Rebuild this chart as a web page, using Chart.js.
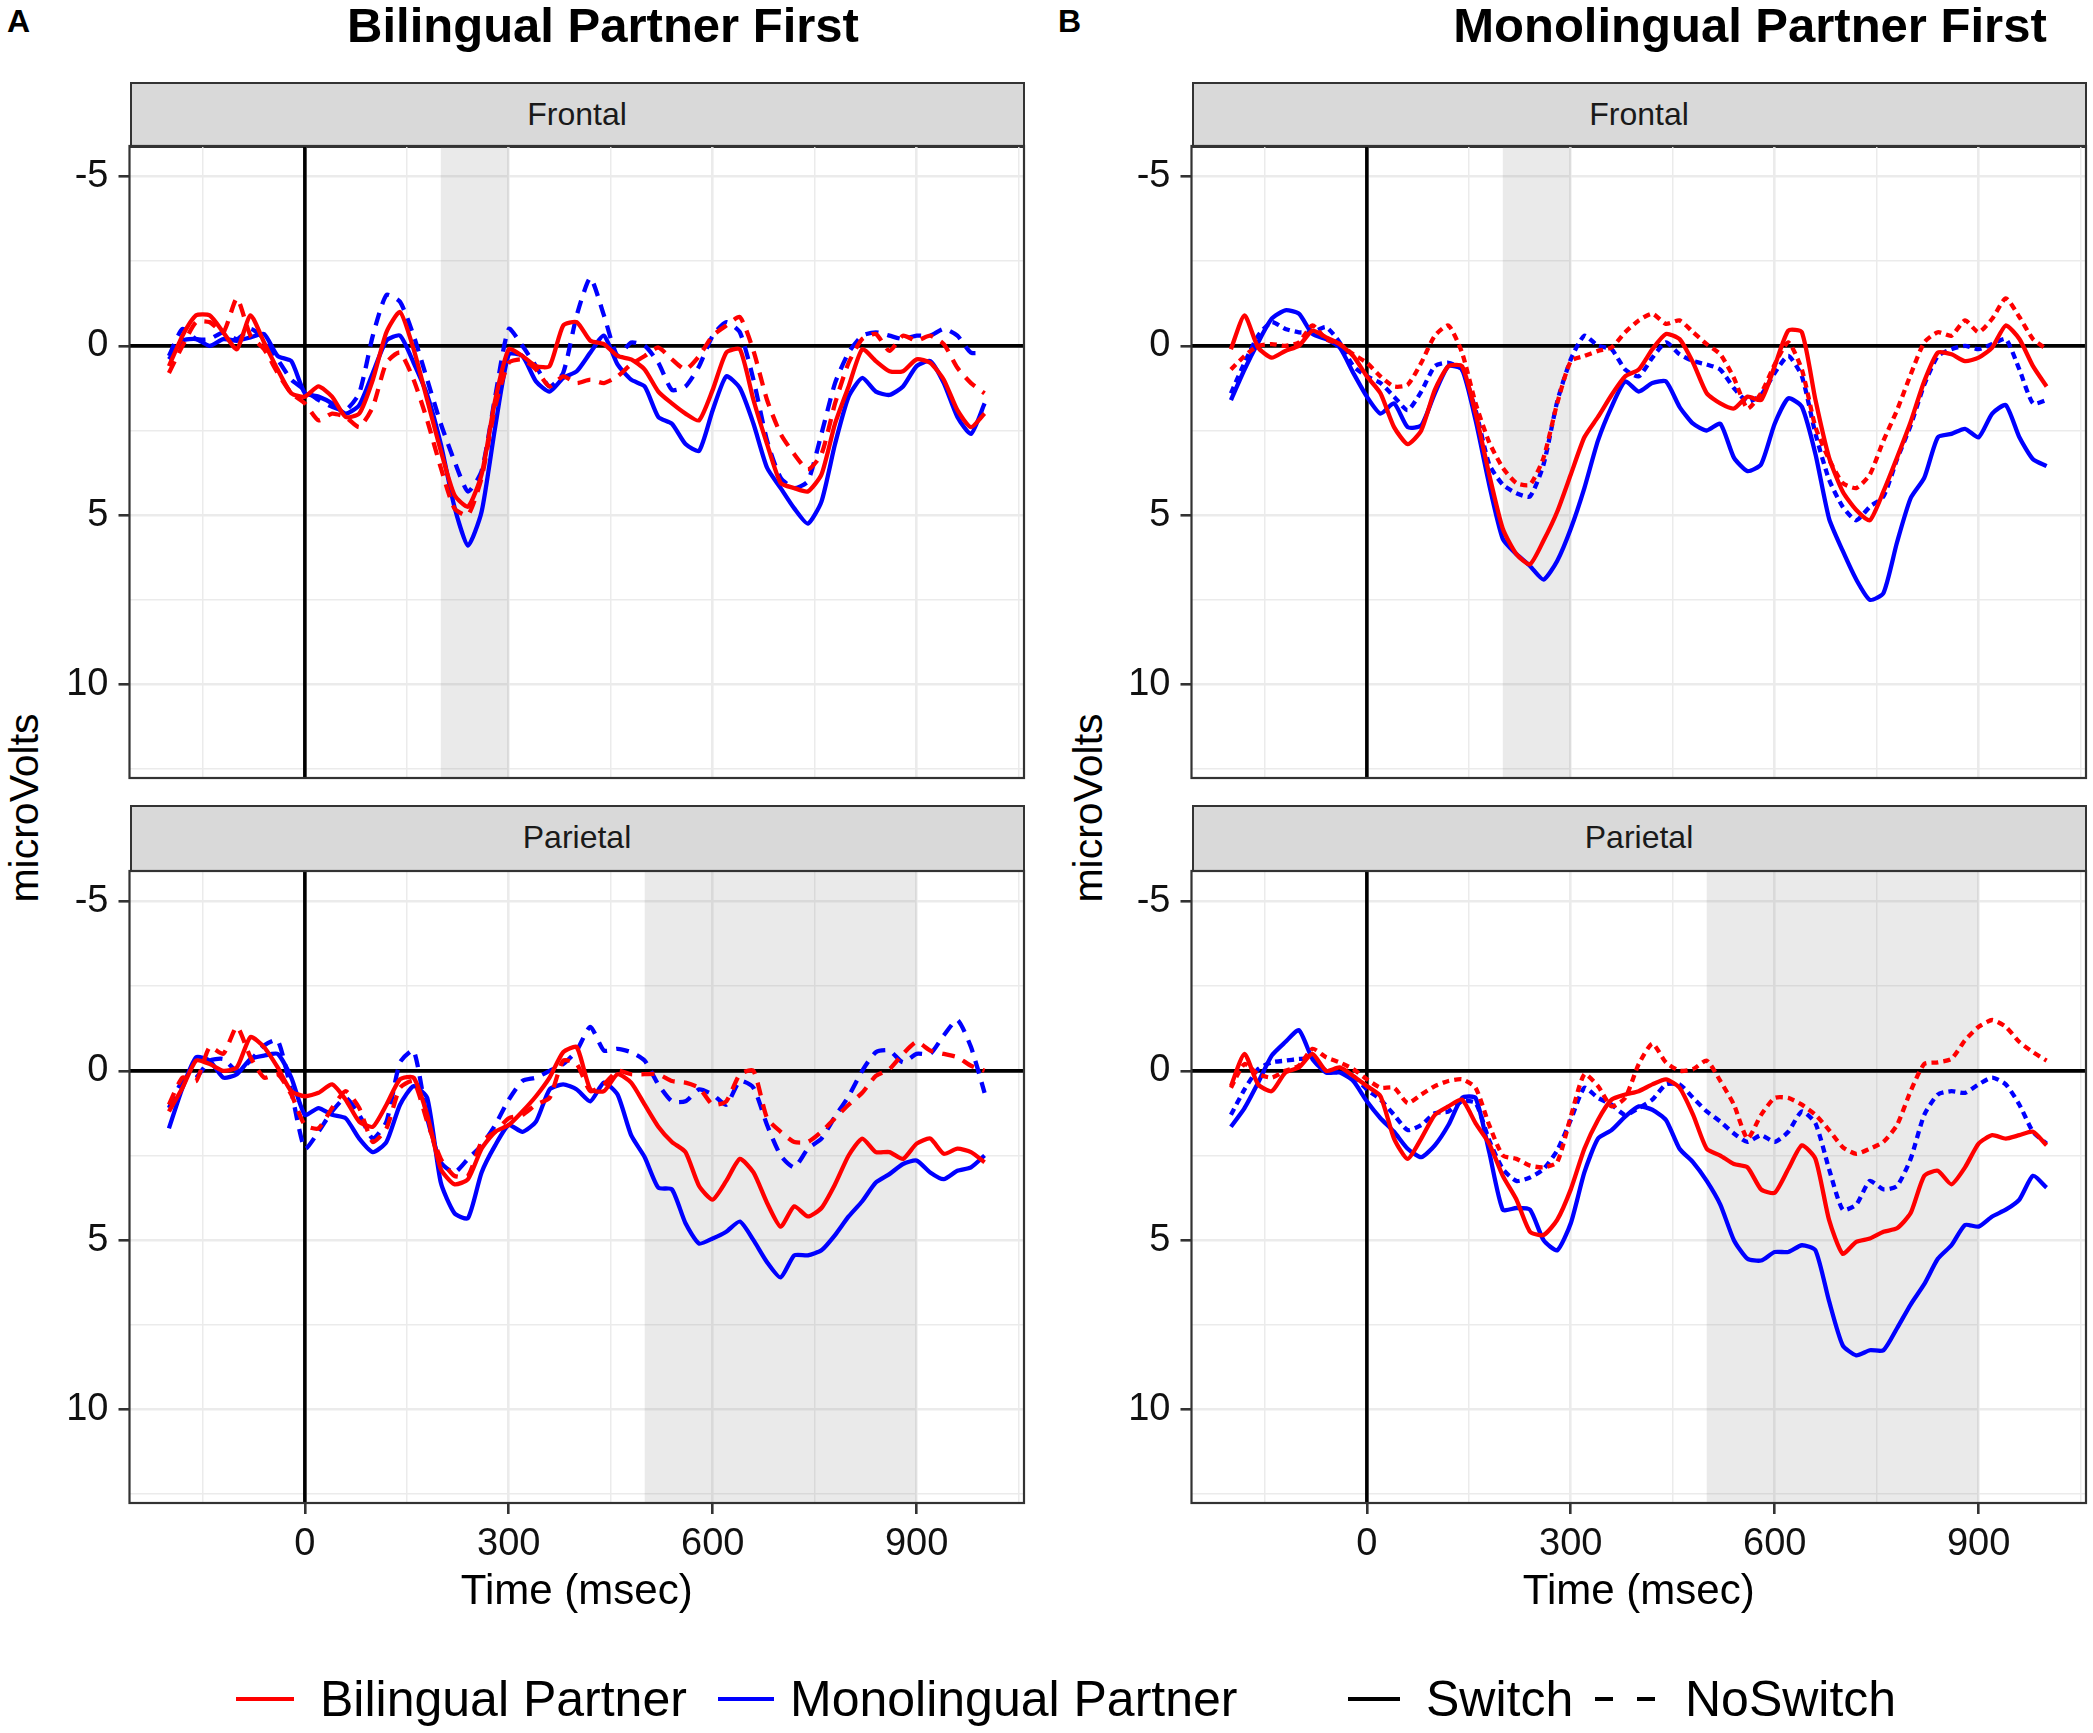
<!DOCTYPE html>
<html>
<head>
<meta charset="utf-8">
<script src="https://cdn.jsdelivr.net/npm/chart.js@4.4.1/dist/chart.umd.min.js"></script>
<style>
  body { margin: 0; background: #fff; }
  #fig { position: relative; width: 2093px; height: 1733px; overflow: hidden;
         font-family: 'Liberation Sans', Arial, sans-serif; color: #000; }
  .txt { position: absolute; white-space: nowrap; line-height: 1; }
  .strip { position: absolute; background: #d9d9d9; border: 2px solid #333; box-sizing: border-box;
           text-align: center; color: #1a1a1a; font-size: 32px; line-height: 60px; }
  .swatch { position: absolute; height: 4px; }
  canvas { position: absolute; }
</style>
</head>
<body>
<div id="fig">
  <div class="txt" style="left:7px;top:5px;font-size:32px;font-weight:bold;">A</div>
  <div class="txt" style="left:1058px;top:5px;font-size:32px;font-weight:bold;">B</div>
  <div class="txt" style="left:603px;top:25px;transform:translate(-50%,-50%);font-size:49px;font-weight:bold;">Bilingual Partner First</div>
  <div class="txt" style="left:1750px;top:25px;transform:translate(-50%,-50%);font-size:49px;font-weight:bold;">Monolingual Partner First</div>

  <div class="strip" style="left:129.5px;top:81.5px;width:895px;height:66px;">Frontal</div>
  <div class="strip" style="left:129.5px;top:805px;width:895px;height:67px;">Parietal</div>
  <div class="strip" style="left:1191.5px;top:81.5px;width:895px;height:66px;">Frontal</div>
  <div class="strip" style="left:1191.5px;top:805px;width:895px;height:67px;">Parietal</div>

  <div class="txt" style="left:24px;top:808px;transform:translate(-50%,-50%) rotate(-90deg);font-size:41px;">microVolts</div>
  <div class="txt" style="left:1088px;top:808px;transform:translate(-50%,-50%) rotate(-90deg);font-size:41px;">microVolts</div>

  <canvas id="aF"></canvas>
  <canvas id="aP"></canvas>
  <canvas id="bF"></canvas>
  <canvas id="bP"></canvas>

  <div class="swatch" style="left:236px;top:1697px;width:58px;background:#f00;"></div>
  <div class="txt" style="left:320px;top:1699px;transform:translateY(-50%);font-size:50px;">Bilingual Partner</div>
  <div class="swatch" style="left:718px;top:1697px;width:56px;background:#00f;"></div>
  <div class="txt" style="left:790px;top:1699px;transform:translateY(-50%);font-size:50px;">Monolingual Partner</div>
  <div class="swatch" style="left:1348px;top:1697px;width:52px;background:#000;"></div>
  <div class="txt" style="left:1426px;top:1699px;transform:translateY(-50%);font-size:50px;">Switch</div>
  <div class="swatch" style="left:1595px;top:1697px;width:18px;background:#000;"></div>
  <div class="swatch" style="left:1637px;top:1697px;width:18px;background:#000;"></div>
  <div class="txt" style="left:1685px;top:1699px;transform:translateY(-50%);font-size:50px;">NoSwitch</div>
</div>

<script>
// time points (msec)
const times = [-200,-180,-160,-140,-120,-100,-80,-60,-40,-20,
  0,20,40,60,80,100,120,140,160,180,
  200,220,240,260,280,300,320,340,360,380,
  400,420,440,460,480,500,520,540,560,580,
  600,620,640,660,680,700,720,740,760,780,
  800,820,840,860,880,900,920,940,960,980,
  1000];

const xMajor = [0, 300, 600, 900];
const xMinor = [-150, 150, 450, 750, 1050];
const yMajor = [-5, 0, 5, 10];
const yMinor = [-2.5, 2.5, 7.5, 12.5];

// shaded analysis windows
const frontalWindow = [200, 300];
const parietalWindow = [500, 900];

// A: Bilingual Partner First, Frontal
const aFrontalBiSwitch = [0.6,-0.3,-0.9,-0.9,-0.4,0.1,-0.9,-0.1,0.7,1.4,
  1.5,1.2,1.5,2.1,2.0,1.0,-0.4,-1.0,0.1,1.6,
  3.1,4.4,4.75,3.8,1.6,0.1,0.3,0.6,0.6,-0.6,
  -0.7,-0.15,-0.05,0.3,0.4,0.7,1.35,1.7,2.0,2.2,
  1.3,0.2,0.1,1.6,2.9,4.05,4.2,4.3,3.8,2.3,
  1.2,0.1,0.45,0.75,0.75,0.4,0.5,1.0,1.9,2.4,
  2.0];
const aFrontalBiNoSwitch = [0.8,0.0,-0.7,-0.7,-0.4,-1.4,-0.3,0.1,0.8,1.4,
  1.7,2.2,2.0,2.1,2.4,1.8,0.5,0.2,1.0,2.2,
  3.6,4.8,5.0,3.9,1.8,0.5,0.4,0.7,1.2,0.9,
  1.1,1.0,1.1,0.9,0.55,0.3,0.05,0.4,0.7,0.3,
  -0.3,-0.6,-0.85,0.15,1.6,2.6,3.2,3.65,3.2,1.7,
  0.5,-0.2,-0.35,0.15,-0.3,-0.15,-0.3,-0.05,0.65,1.1,
  1.4];
const aFrontalMonoSwitch = [0.4,-0.15,-0.2,0.0,-0.2,-0.15,-0.25,-0.35,0.3,0.45,
  1.4,1.5,1.7,2.0,1.75,0.8,-0.15,-0.3,0.5,1.45,
  2.9,4.75,5.9,4.9,2.4,0.25,0.3,1.05,1.35,0.95,
  0.75,0.2,-0.3,0.55,1.0,1.2,2.1,2.3,2.9,3.1,
  1.9,0.9,1.25,2.3,3.6,4.2,4.8,5.25,4.6,2.9,
  1.5,0.95,1.35,1.45,1.2,0.6,0.45,1.1,2.1,2.6,
  1.7];
const aFrontalMonoNoSwitch = [0.3,-0.5,-0.2,-0.2,-0.4,-0.2,-0.5,-0.2,0.4,1.0,
  1.3,1.6,1.8,1.9,1.4,-0.3,-1.5,-1.3,-0.3,1.0,
  2.3,3.4,4.3,3.7,1.5,-0.5,0.0,0.6,1.2,0.8,
  -0.9,-2.0,-0.9,0.3,-0.1,0.0,0.5,1.3,1.2,0.6,
  -0.3,-0.7,-0.4,1.0,2.8,3.9,4.2,4.0,2.6,1.1,
  0.2,-0.3,-0.4,-0.3,-0.2,-0.3,-0.3,-0.5,-0.3,0.2,
  0.2];

// A: Bilingual Partner First, Parietal
const aParietalBiSwitch = [1.2,0.5,-0.3,-0.2,0.0,-0.1,-1.0,-0.7,-0.1,0.6,
  0.75,0.65,0.4,0.85,1.5,1.65,1.0,0.25,0.2,1.3,
  2.9,3.35,3.2,2.3,1.8,1.6,1.2,0.75,0.2,-0.55,
  -0.7,0.55,0.6,0.1,0.35,1.0,1.65,2.1,2.4,3.4,
  3.8,3.25,2.6,3.0,3.9,4.6,4.0,4.3,4.05,3.35,
  2.5,2.0,2.4,2.4,2.6,2.15,2.0,2.45,2.3,2.4,
  2.7];
const aParietalBiNoSwitch = [1.0,0.2,0.3,-0.7,-0.5,-1.3,-0.4,0.2,0.1,0.7,
  1.6,1.7,1.1,0.6,1.1,2.1,1.7,0.5,0.3,1.5,
  2.6,3.1,3.1,2.1,1.8,1.4,1.3,1.0,0.8,-0.3,
  -0.2,0.6,0.4,0.0,0.1,0.1,0.1,0.3,0.35,0.5,
  1.0,0.9,0.1,0.0,1.4,1.8,2.1,2.1,1.8,1.4,
  1.0,0.65,0.15,-0.05,-0.5,-0.85,-0.6,-0.5,-0.4,-0.15,
  0.0];
const aParietalMonoSwitch = [1.7,0.5,-0.4,-0.3,0.2,0.1,-0.35,-0.45,-0.5,0.2,
  1.3,1.1,1.3,1.4,2.0,2.4,2.1,1.0,0.45,0.8,
  3.3,4.2,4.35,3.0,2.2,1.6,1.8,1.5,0.55,0.4,
  0.55,0.9,0.35,0.7,1.9,2.55,3.45,3.5,4.5,5.1,
  4.95,4.75,4.45,5.0,5.65,6.1,5.45,5.45,5.3,4.85,
  4.3,3.85,3.3,3.05,2.75,2.65,3.0,3.2,2.95,2.85,
  2.5];
const aParietalMonoNoSwitch = [1.1,0.3,0.2,-0.3,-0.35,0.0,-0.3,-0.75,-0.9,0.6,
  2.3,1.8,1.2,0.8,1.3,2.0,1.5,-0.25,-0.6,1.4,
  2.7,3.0,2.6,2.2,1.6,0.85,0.3,0.2,0.0,-0.2,
  -0.6,-1.3,-0.6,-0.65,-0.55,-0.3,0.4,0.9,0.9,0.55,
  0.7,1.0,0.3,0.5,1.6,2.5,2.85,2.3,2.0,1.35,
  0.75,0.0,-0.55,-0.6,-0.25,-0.5,-0.5,-1.05,-1.5,-0.7,
  0.65];

// B: Monolingual Partner First, Frontal
const bFrontalBiSwitch = [0.1,-0.9,0.05,0.35,0.15,0.0,-0.45,-0.25,-0.05,0.3,
  0.9,1.4,2.4,2.9,2.5,1.3,0.6,0.6,2.0,3.8,
  5.4,6.15,6.45,5.75,4.9,3.8,2.7,2.1,1.45,0.9,
  0.7,0.1,-0.35,-0.2,0.5,1.4,1.7,1.85,1.5,1.6,
  0.6,-0.45,-0.4,1.6,3.3,4.3,4.85,5.15,4.3,3.3,
  2.25,1.05,0.2,0.25,0.45,0.35,0.05,-0.6,-0.2,0.6,
  1.2];
const bFrontalBiNoSwitch = [0.7,0.3,0.0,-0.05,0.0,-0.1,-0.6,-0.2,-0.05,0.25,
  0.5,0.9,1.2,1.15,0.5,-0.3,-0.6,0.2,1.7,2.85,
  3.6,4.05,4.1,3.3,1.7,0.45,0.3,0.15,0.05,-0.4,
  -0.75,-0.95,-0.65,-0.75,-0.4,-0.05,0.25,0.95,1.85,1.4,
  0.55,-0.1,0.7,2.4,3.35,4.05,4.2,3.8,2.8,1.9,
  0.85,-0.1,-0.4,-0.3,-0.75,-0.4,-0.8,-1.4,-0.85,-0.2,
  0.1];
const bFrontalMonoSwitch = [1.6,0.7,-0.1,-0.8,-1.05,-0.95,-0.35,-0.2,0.05,0.8,
  1.5,2.0,1.7,2.4,2.35,1.4,0.6,0.7,2.2,4.1,
  5.7,6.15,6.5,6.9,6.35,5.4,4.2,2.8,1.8,1.05,
  1.35,1.1,1.05,1.8,2.3,2.5,2.3,3.3,3.7,3.5,
  2.3,1.55,1.8,3.2,5.1,6.05,6.9,7.5,7.3,5.8,
  4.5,3.9,2.7,2.6,2.45,2.7,2.0,1.75,2.7,3.35,
  3.55];
const bFrontalMonoNoSwitch = [1.4,0.5,-0.3,-0.7,-0.5,-0.4,-0.4,-0.55,-0.1,0.6,
  0.9,1.1,1.5,1.9,1.35,0.6,0.5,0.7,1.9,3.5,
  4.1,4.35,4.45,3.5,1.65,0.4,-0.3,0.0,0.1,0.7,
  0.9,0.35,-0.1,0.25,0.45,0.55,0.7,1.25,1.65,1.45,
  0.8,0.3,0.9,2.6,3.95,4.75,5.15,4.75,4.45,3.35,
  2.35,1.15,0.3,0.1,0.0,0.1,-0.05,-0.2,0.7,1.7,
  1.6];

// B: Monolingual Partner First, Parietal
const bParietalBiSwitch = [0.45,-0.5,0.4,0.6,0.05,-0.1,-0.5,0.0,-0.1,0.15,
  0.45,0.75,2.0,2.6,2.0,1.3,1.05,0.85,1.55,2.15,
  3.1,3.8,4.75,4.85,4.4,3.5,2.3,1.45,0.85,0.7,
  0.6,0.4,0.25,0.5,1.3,2.3,2.5,2.75,2.85,3.5,
  3.6,2.9,2.2,2.6,4.4,5.4,5.05,4.95,4.75,4.65,
  4.2,3.1,2.95,3.35,2.85,2.15,1.9,2.0,1.9,1.8,
  2.2];
const bParietalBiNoSwitch = [0.5,-0.2,0.1,0.2,0.0,-0.15,-0.65,-0.4,-0.25,-0.05,
  0.25,0.5,0.5,0.95,0.7,0.45,0.3,0.25,0.5,1.6,
  2.5,2.6,2.8,2.85,2.7,1.35,0.1,0.45,1.05,0.8,
  -0.2,-0.8,-0.25,0.0,-0.05,-0.3,0.3,1.0,2.0,1.3,
  0.8,0.8,1.0,1.3,1.75,2.25,2.45,2.3,2.1,1.6,
  0.6,-0.2,-0.25,-0.35,-0.9,-1.3,-1.5,-1.3,-0.85,-0.55,
  -0.3];
const bParietalMonoSwitch = [1.65,1.1,0.35,-0.45,-0.85,-1.2,-0.35,0.05,0.05,0.3,
  0.9,1.4,1.8,2.3,2.55,2.2,1.6,0.8,0.8,2.4,
  4.1,4.05,4.1,5.0,5.3,4.5,3.0,2.0,1.75,1.35,
  1.05,1.15,1.45,2.3,2.7,3.25,3.95,5.0,5.55,5.6,
  5.35,5.35,5.15,5.3,6.8,8.1,8.4,8.25,8.25,7.6,
  6.9,6.3,5.55,5.15,4.55,4.6,4.3,4.1,3.8,3.1,
  3.45];
const bParietalMonoNoSwitch = [1.3,0.55,-0.05,-0.25,-0.3,-0.35,-0.35,0.0,0.05,0.15,
  0.55,0.85,1.3,1.75,1.6,1.25,1.2,0.9,0.95,2.05,
  2.9,3.25,3.15,2.9,2.35,1.45,0.5,0.8,1.0,1.3,
  1.1,0.85,0.4,0.4,0.8,1.2,1.5,1.85,2.1,1.9,
  2.1,1.8,1.2,1.55,2.9,4.1,3.95,3.25,3.5,3.4,
  2.6,1.3,0.7,0.6,0.65,0.4,0.2,0.4,1.0,1.8,
  2.15];

const RED = '#ff0000', BLUE = '#0000ff';
const tickFont = { family: "'Liberation Sans', Arial, sans-serif", size: 38 };
const isMajor = (list, c) => c.tick && list.includes(c.tick.value);

const panelDecor = {
  id: 'panelDecor',
  beforeDatasetsDraw(chart, args, opts) {
    const { ctx, chartArea: a, scales: { x, y } } = chart;
    ctx.save();
    ctx.fillStyle = 'rgba(128,128,128,0.17)';
    const x0 = x.getPixelForValue(opts.shade[0]);
    const x1 = x.getPixelForValue(opts.shade[1]);
    ctx.fillRect(x0, a.top, x1 - x0, a.bottom - a.top);
    const zx = x.getPixelForValue(0), zy = y.getPixelForValue(0);
    ctx.strokeStyle = '#000';
    ctx.lineWidth = 3.6;
    ctx.beginPath();
    ctx.moveTo(zx, a.top); ctx.lineTo(zx, a.bottom);
    ctx.moveTo(a.left, zy); ctx.lineTo(a.right, zy);
    ctx.stroke();
    ctx.restore();
  },
  afterDraw(chart) {
    const { ctx, chartArea: a } = chart;
    ctx.save();
    ctx.strokeStyle = '#333';
    ctx.lineWidth = 2.2;
    ctx.strokeRect(a.left, a.top, a.right - a.left, a.bottom - a.top);
    ctx.restore();
  }
};

function line(values, color, dash) {
  return {
    data: times.map((t, i) => ({ x: t, y: values[i] })),
    borderColor: color,
    borderWidth: 4.3,
    borderDash: dash,
    pointRadius: 0,
    tension: 0.2,
    fill: false,
    borderJoinStyle: 'round'
  };
}

function makePanel(id, left, top, bottomAxis, shade, dash, series) {
  const W = 895, H = 632.5, yAxisW = 129.5, pad = 40;
  const xAxisH = bottomAxis ? 115 : 0;
  const canvas = document.getElementById(id);
  const cw = yAxisW + W + 10;
  const ch = pad + H + (bottomAxis ? xAxisH + 10 : pad);
  canvas.width = cw; canvas.height = ch;
  canvas.style.left = (left - yAxisW) + 'px';
  canvas.style.top = (top - pad) + 'px';

  new Chart(canvas, {
    type: 'line',
    data: {
      datasets: [
        line(series[0], RED, []),
        line(series[1], RED, dash),
        line(series[2], BLUE, []),
        line(series[3], BLUE, dash)
      ]
    },
    options: {
      responsive: false,
      animation: false,
      devicePixelRatio: 1,
      layout: { padding: { top: pad, right: 10, bottom: bottomAxis ? 10 : pad, left: 0 } },
      plugins: { legend: { display: false }, tooltip: { enabled: false }, panelDecor: { shade } },
      scales: {
        x: {
          type: 'linear', min: -258, max: 1058,
          afterBuildTicks: s => { s.ticks = xMinor.concat(xMajor).sort((a, b) => a - b).map(v => ({ value: v })); },
          afterFit: s => { s.height = xAxisH; },
          ticks: {
            display: bottomAxis, autoSkip: false, maxRotation: 0, padding: 8,
            font: tickFont, color: '#111',
            callback: v => xMajor.includes(v) ? String(v) : ''
          },
          grid: {
            color: '#ebebeb',
            lineWidth: c => isMajor(xMajor, c) ? 2.6 : 1.5,
            drawTicks: bottomAxis, tickLength: 11, tickWidth: 2.6,
            tickColor: c => isMajor(xMajor, c) ? '#333' : 'rgba(0,0,0,0)'
          },
          border: { display: false },
          title: {
            display: bottomAxis, text: 'Time (msec)', color: '#000', padding: 0,
            font: { family: "'Liberation Sans', Arial, sans-serif", size: 42 }
          }
        },
        y: {
          type: 'linear', reverse: true, min: -5.9, max: 12.76,
          afterBuildTicks: s => { s.ticks = yMinor.concat(yMajor).sort((a, b) => a - b).map(v => ({ value: v })); },
          afterFit: s => { s.width = yAxisW; },
          ticks: {
            autoSkip: false, padding: 10, font: tickFont, color: '#111',
            callback: v => yMajor.includes(v) ? String(v) : ''
          },
          grid: {
            color: '#ebebeb',
            lineWidth: c => isMajor(yMajor, c) ? 2.6 : 1.5,
            tickLength: 11, tickWidth: 2.6,
            tickColor: c => isMajor(yMajor, c) ? '#333' : 'rgba(0,0,0,0)'
          },
          border: { display: false }
        }
      }
    },
    plugins: [panelDecor]
  });
}

makePanel('aF', 129.5, 145.5, false, frontalWindow, [13, 9],
  [aFrontalBiSwitch, aFrontalBiNoSwitch, aFrontalMonoSwitch, aFrontalMonoNoSwitch]);
makePanel('aP', 129.5, 870.5, true, parietalWindow, [13, 9],
  [aParietalBiSwitch, aParietalBiNoSwitch, aParietalMonoSwitch, aParietalMonoNoSwitch]);
makePanel('bF', 1191.5, 145.5, false, frontalWindow, [7, 5],
  [bFrontalBiSwitch, bFrontalBiNoSwitch, bFrontalMonoSwitch, bFrontalMonoNoSwitch]);
makePanel('bP', 1191.5, 870.5, true, parietalWindow, [7, 5],
  [bParietalBiSwitch, bParietalBiNoSwitch, bParietalMonoSwitch, bParietalMonoNoSwitch]);
</script>
</body>
</html>
